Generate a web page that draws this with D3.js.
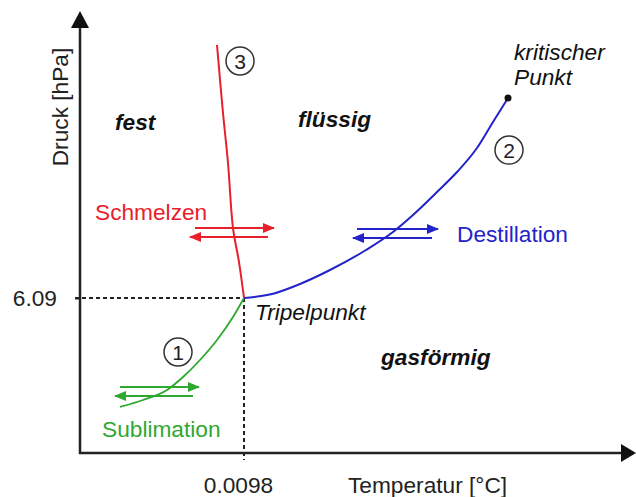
<!DOCTYPE html>
<html><head><meta charset="utf-8">
<script src="https://cdn.jsdelivr.net/npm/d3@7"></script>
<style>
body{margin:0;background:#fff}
svg{display:block}
text{font-family:"Liberation Sans",Arial,sans-serif}
</style>
</head><body>
<svg id="chart" width="636" height="497"></svg>
<script>
// ---- data (schematic units 0..100 on both axes) ----
const triplePoint = [29.5, 35.07];
const criticalPoint = [76.98, 80.32];
const meltingCurve = [[24.64,92.31],[25.72,76.92],[26.62,65.61],[27.52,50.90],[28.6,43.2],[29.5,35.07]];
const vaporCurve = [[29.5,35.07],[34.53,35.97],[39.57,38.24],[44.96,41.40],[51.44,45.93],[56.29,50.0],[59.89,53.85],[64.21,59.05],[67.81,63.57],[71.40,69.0],[74.28,74.89],[76.98,80.32]];
const sublimationCurve = [[7.19,10.41],[11.33,11.99],[15.65,14.25],[18.53,17.19],[21.58,21.04],[24.64,25.57],[27.52,30.77],[29.5,35.07]];
const xTickLabels = ["0.0098"];
const yTickLabels = ["6.09"];
const curveNames = ["Sublimation", "Destillation", "Schmelzen"];
const curveNumbers = ["1", "2", "3"];
const regionNames = ["fest", "flüssig", "gasförmig"];

// ---- layout ----
const svg = d3.select("#chart");
const x = d3.scaleLinear().domain([0, 100]).range([80, 636]);
const y = d3.scaleLinear().domain([0, 100]).range([453, 11]);
const RED = "#e8202a", BLUE = "#2323cc", GREEN = "#2fa82f", INK = "#222";
const FS = 22.7;
const FONT = '"Liberation Sans",Arial,sans-serif';

// markers
const defs = svg.append("defs");
function marker(id, color) {
  defs.append("marker").attr("id", id).attr("viewBox", "0 0 12 10")
    .attr("refX", 11).attr("refY", 5).attr("markerWidth", 12).attr("markerHeight", 10)
    .attr("markerUnits", "userSpaceOnUse").attr("orient", "auto")
    .append("path").attr("d", "M0,0L12,5L0,10Z").attr("fill", color);
}
marker("mR", RED); marker("mB", BLUE); marker("mG", GREEN);

// dashed guides
svg.append("line").attr("x1", x(0) - 5).attr("x2", x(triplePoint[0]))
  .attr("y1", y(triplePoint[1])).attr("y2", y(triplePoint[1]))
  .attr("stroke", INK).attr("stroke-width", 2).attr("stroke-dasharray", "4,3");
svg.append("line").attr("x1", x(triplePoint[0])).attr("x2", x(triplePoint[0]))
  .attr("y1", y(triplePoint[1])).attr("y2", y(0) + 7)
  .attr("stroke", INK).attr("stroke-width", 2).attr("stroke-dasharray", "4,3");

// axes with library axis generators
const xAxis = d3.axisBottom(x).tickValues([triplePoint[0]]).tickFormat((d, i) => xTickLabels[i])
  .tickSize(0).tickPadding(24);
const gx = svg.append("g").attr("transform", `translate(0,${y(0)})`).call(xAxis);
gx.select(".domain").remove();
gx.selectAll("text").attr("font-size", FS).attr("fill", INK).attr("dx", -6).style("font-family", FONT);

const yAxis = d3.axisLeft(y).tickValues([triplePoint[1]]).tickFormat((d, i) => yTickLabels[i])
  .tickSize(5).tickPadding(18);
const gy = svg.append("g").attr("transform", `translate(${x(0)},0)`).call(yAxis);
gy.select(".domain").remove();
gy.selectAll("line").attr("stroke", INK).attr("stroke-width", 2).attr("x2", -5);
gy.selectAll("text").attr("font-size", FS).attr("fill", INK).style("font-family", FONT);

// axis lines + arrowheads
svg.append("line").attr("x1", x(0)).attr("x2", x(0)).attr("y1", y(0) + 1).attr("y2", 24)
  .attr("stroke", INK).attr("stroke-width", 2.5);
svg.append("path").attr("d", `M${x(0)},11L${x(0) - 9},28L${x(0) + 9},28Z`).attr("fill", "#111");
svg.append("line").attr("x1", x(0) - 1).attr("x2", 626).attr("y1", y(0)).attr("y2", y(0))
  .attr("stroke", INK).attr("stroke-width", 2.5);
svg.append("path").attr("d", `M636,${y(0)}L621,${y(0) - 9}L621,${y(0) + 9}Z`).attr("fill", "#111");

// axis titles
svg.append("text").attr("x", 348).attr("y", 493).attr("font-size", FS).attr("fill", INK).text("Temperatur [°C]");
svg.append("text").attr("transform", "translate(68,107) rotate(-90)").attr("text-anchor", "middle")
  .attr("font-size", FS).attr("fill", INK).text("Druck [hPa]");

// phase boundary curves
const lineX = d3.line().x(d => x(d[0])).y(d => y(d[1])).curve(d3.curveMonotoneX);
const lineR = d3.line().x(d => x(d[0])).y(d => y(d[1])).curve(d3.curveCatmullRom.alpha(0.5));
svg.append("path").datum(sublimationCurve).attr("d", lineX).attr("fill", "none").attr("stroke", GREEN).attr("stroke-width", 1.8);
svg.append("path").datum(vaporCurve).attr("d", lineX).attr("fill", "none").attr("stroke", BLUE).attr("stroke-width", 2);
svg.append("path").datum(meltingCurve).attr("d", lineR).attr("fill", "none").attr("stroke", RED).attr("stroke-width", 2);

// critical point
svg.append("circle").attr("cx", x(criticalPoint[0])).attr("cy", y(criticalPoint[1])).attr("r", 3.5).attr("fill", "#111");

// transition arrows (pairs)
const arrowPairs = [
  {c: RED, m: "mR", top: [20.68, 34.89, 50.9], bot: [19.78, 33.81, 48.87]},
  {c: BLUE, m: "mB", top: [49.82, 64.39, 50.68], bot: [49.1, 63.31, 48.64]},
  {c: GREEN, m: "mG", top: [7.19, 21.4, 14.93], bot: [6.29, 20.32, 12.9]}
];
arrowPairs.forEach(a => {
  svg.append("line").attr("x1", x(a.top[0])).attr("x2", x(a.top[1])).attr("y1", y(a.top[2])).attr("y2", y(a.top[2]))
    .attr("stroke", a.c).attr("stroke-width", 2.2).attr("marker-end", `url(#${a.m})`);
  svg.append("line").attr("x1", x(a.bot[1])).attr("x2", x(a.bot[0])).attr("y1", y(a.bot[2])).attr("y2", y(a.bot[2]))
    .attr("stroke", a.c).attr("stroke-width", 2.2).attr("marker-end", `url(#${a.m})`);
});

// curve names
const nameLayout = [
  {c: GREEN, p: [3.96, 3.62]},
  {c: BLUE, p: [67.81, 47.74]},
  {c: RED, p: [2.7, 52.71]}
];
curveNames.forEach((n, i) => {
  svg.append("text").attr("x", x(nameLayout[i].p[0])).attr("y", y(nameLayout[i].p[1]))
    .attr("font-size", FS).attr("fill", nameLayout[i].c).text(n);
});

// circled numbers
const numLayout = [[17.63, 22.85], [77.16, 68.55], [28.78, 88.69]];
curveNumbers.forEach((n, i) => {
  const g = svg.append("g").attr("transform", `translate(${x(numLayout[i][0])},${y(numLayout[i][1])})`);
  g.append("circle").attr("r", 14).attr("fill", "none").attr("stroke", "#333").attr("stroke-width", 1.5);
  g.append("text").attr("text-anchor", "middle").attr("dy", "0.36em").attr("font-size", 21).attr("fill", "#222").text(n);
});

// region labels
const regionLayout = [[6.29, 73.08], [39.2, 73.76], [54.14, 19.91]];
regionNames.forEach((n, i) => {
  svg.append("text").attr("x", x(regionLayout[i][0])).attr("y", y(regionLayout[i][1]))
    .attr("font-size", FS).attr("font-weight", "bold").attr("font-style", "italic").attr("fill", "#111").text(n);
});

// point annotations
svg.append("text").attr("x", x(31.47)).attr("y", y(30.09)).attr("font-size", FS).attr("font-style", "italic").attr("fill", "#111").text("Tripelpunkt");
svg.append("text").attr("x", x(78.06)).attr("y", y(88.91)).attr("font-size", FS).attr("font-style", "italic").attr("fill", "#111").text("kritischer");
svg.append("text").attr("x", x(78.06)).attr("y", y(83.26)).attr("font-size", FS).attr("font-style", "italic").attr("fill", "#111").text("Punkt");
</script>
</body></html>
